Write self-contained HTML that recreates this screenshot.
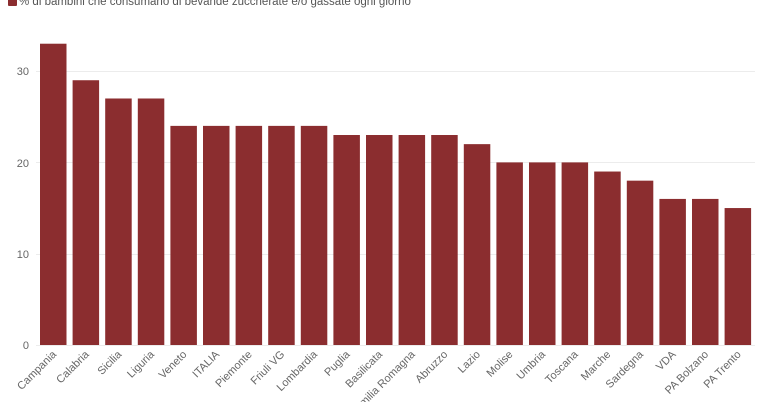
<!DOCTYPE html>
<html><head><meta charset="utf-8"><style>
body{margin:0;background:#fff;}
svg{display:block;font-family:"Liberation Sans",sans-serif;}
</style></head><body>
<svg width="770" height="402" viewBox="0 0 770 402">
<rect x="8" y="-4" width="9" height="10" fill="#8b2d2f" rx="1"/>
<text x="19" y="5" font-size="11.5" fill="#555">% di bambini che consumano di bevande zuccherate e/o gassate ogni giorno</text>
<g stroke="#ececec" stroke-width="1">
<line x1="36" x2="755" y1="71.5" y2="71.5"/>
<line x1="36" x2="755" y1="162.5" y2="162.5"/>
<line x1="36" x2="755" y1="254.5" y2="254.5"/>
<line x1="36" x2="755" y1="345.5" y2="345.5"/>
</g>
<g font-size="11" fill="#666" text-anchor="end">
<text x="29" y="75">30</text><text x="29" y="167">20</text><text x="29" y="258">10</text><text x="29" y="349">0</text>
</g>
<g id="bars" fill="#8b2d2f"></g>
<g id="labels" font-size="11" fill="#666" text-anchor="end"></g>
</svg>
<script>
var d=[["Campania",33],["Calabria",29],["Sicilia",27],["Liguria",27],["Veneto",24],["ITALIA",24],["Piemonte",24],["Friuli VG",24],["Lombardia",24],["Puglia",23],["Basilicata",23],["Emilia Romagna",23],["Abruzzo",23],["Lazio",22],["Molise",20],["Umbria",20],["Toscana",20],["Marche",19],["Sardegna",18],["VDA",16],["PA Bolzano",16],["PA Trento",15]];
var ns="http://www.w3.org/2000/svg",b=document.getElementById("bars"),l=document.getElementById("labels");
d.forEach(function(e,i){var x=40+i*32.6,h=e[1]*9.13;
var r=document.createElementNS(ns,"rect");r.setAttribute("x",x);r.setAttribute("y",345-h);r.setAttribute("width",26.5);r.setAttribute("height",h);b.appendChild(r);
var t=document.createElementNS(ns,"text");var cx=x+17,cy=355;t.setAttribute("x",cx);t.setAttribute("y",cy);t.setAttribute("transform","rotate(-45 "+cx+" "+cy+")");t.textContent=e[0];l.appendChild(t);});
</script>
</body></html>
